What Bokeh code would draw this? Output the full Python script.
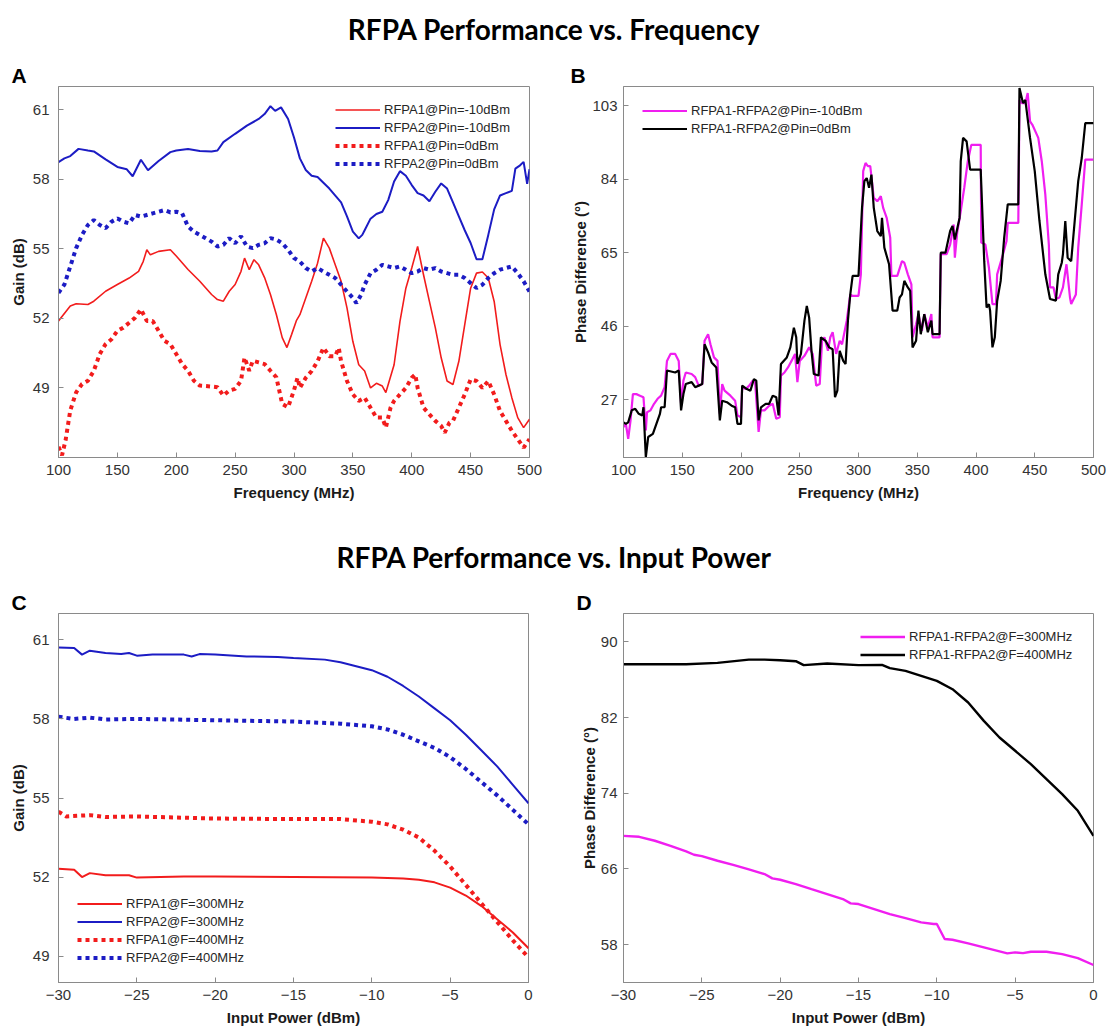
from bokeh.plotting import figure
from bokeh.models import Range1d, FixedTicker, Label, Legend, LegendItem, Title
from bokeh.layouts import column, row
from bokeh.embed import file_html
from bokeh.resources import INLINE

# ---------------- data ----------------
# Panel A: Gain vs frequency
a_r1_x = [100,110,115,125,130,140,150,160,168,172,175,178,185,195,200,210,220,230,235,240,245,250,255,258,262,266,270,275,280,285,290,294,298,302,305,310,315,320,325,330,335,340,345,350,355,360,365,370,375,378,385,390,395,400,405,410,415,420,425,430,435,440,445,450,455,460,465,470,475,480,485,490,495,500]
a_r1_y = [51.89,52.53,52.63,52.6,52.74,53.17,53.46,53.74,54.03,54.46,54.96,54.74,54.89,54.96,54.69,54.11,53.6,53.03,52.81,52.74,53.17,53.46,54.03,54.6,54.1,54.53,54.31,53.76,53.03,52.17,51.17,50.74,51.31,51.9,52.16,52.88,53.6,54.38,55.46,55.03,54.31,53.6,52.45,51.0,50.0,49.73,49.0,49.2,49.08,48.8,50.0,51.87,53.3,54.17,55.1,53.88,52.73,51.6,50.3,49.3,49.15,50.15,51.73,53.3,53.95,54.0,53.74,52.73,50.87,49.58,48.58,47.72,47.29,47.65]

a_r2_x = [100,105,110,117,125,130,140,150,158,163,170,176,185,195,200,210,220,230,235,240,250,260,270,275,280,284,289,295,300,305,310,315,320,330,340,345,350,355,358,360,365,370,375,380,385,390,395,400,405,410,415,420,425,430,435,440,445,450,455,460,465,470,475,480,485,488,492,495,498,500]
a_r2_y = [58.74,58.9,59.0,59.31,59.24,59.2,58.86,58.53,58.43,58.13,58.84,58.39,58.79,59.17,59.24,59.3,59.22,59.2,59.24,59.6,59.96,60.31,60.6,60.81,61.15,60.95,61.1,60.6,59.8,58.9,58.4,58.15,58.1,57.6,57.0,56.4,55.74,55.45,55.6,55.8,56.3,56.5,56.6,57.1,57.9,58.35,58.15,57.75,57.4,57.3,57.05,57.46,57.82,57.6,57.0,56.4,55.8,55.25,54.55,54.55,55.6,56.7,57.3,57.4,57.5,58.46,58.6,58.75,57.8,58.43]

a_r1p_x = [100,103,106,110,115,120,125,130,135,140,145,150,155,160,165,170,175,180,185,190,195,200,205,210,215,220,230,235,240,245,250,255,258,262,265,270,275,280,285,290,295,300,303,305,310,315,320,325,330,335,338,340,345,350,355,360,365,370,375,378,382,385,390,395,400,403,405,410,415,420,425,428,432,435,440,445,450,455,460,465,470,475,480,485,490,495,500]
a_r1p_y = [46.46,46.1,46.74,48.03,48.81,49.17,49.31,49.74,50.46,50.89,51.1,51.46,51.6,51.81,52.03,52.39,51.89,51.89,51.46,51.03,50.89,50.46,50.03,49.74,49.31,49.1,49.06,49.03,48.67,48.89,48.96,49.31,50.31,49.74,50.17,50.1,50.03,49.74,49.46,48.31,48.17,48.9,49.44,49.0,49.44,49.73,50.15,50.73,50.37,50.37,50.73,50.15,49.3,48.72,48.44,48.58,48.15,47.72,47.72,47.29,48.15,48.44,48.72,49.0,49.44,49.58,49.0,48.15,47.86,47.58,47.36,47.07,47.5,47.58,48.15,48.72,49.37,49.3,49.0,49.3,48.72,48.0,47.58,47.15,46.79,46.43,46.79]

a_r2p_x = [100,105,110,115,120,125,130,135,140,145,150,155,160,165,170,175,180,185,190,195,200,205,210,215,220,225,230,235,240,245,250,255,260,265,270,275,280,285,290,295,300,305,310,315,320,325,330,335,340,345,350,353,357,360,365,370,375,380,385,390,395,400,405,410,415,420,425,430,435,440,445,450,455,460,465,470,475,480,485,490,495,500]
a_r2p_y = [53.1,53.46,54.24,55.03,55.6,56.03,56.24,56.03,55.89,56.17,56.31,56.17,56.1,56.46,56.39,56.46,56.53,56.6,56.67,56.57,56.6,56.53,55.96,55.74,55.6,55.46,55.31,55.1,55.17,55.46,55.24,55.54,55.1,55.03,55.17,55.24,55.46,55.4,55.24,54.96,54.6,54.45,54.17,54.02,54.17,54.02,53.88,53.74,53.45,53.16,52.88,52.66,53.02,53.45,53.95,54.1,54.31,54.24,54.17,54.24,54.1,53.95,54.02,54.17,54.1,54.17,54.02,53.95,53.88,53.88,53.74,53.52,53.31,53.45,53.74,53.95,54.1,54.17,54.24,53.95,53.6,53.16]

a_labels = ["RFPA1@Pin=-10dBm", "RFPA2@Pin=-10dBm", "RFPA1@Pin=0dBm", "RFPA2@Pin=0dBm"]

# Panel B: phase difference vs frequency
b_m10_x = [100,102,104,106,108,111,114,117,119,120,123,126,129,132,135,137,140,144,147,149,151,153,158,161,164,167,169,172,174,177,180,182,184,186,191,195,197,200,201,204,207,210,212,215,217,220,224,227,230,233,234,237,240,243,246,248,250,254,258,261,264,267,269,271,274,276,278,281,284,286,290,293,295,300,302,304,306,308,310,313,316,319,321,324,327,328,333,337,339,342,345,346,349,351,354,356,359,362,363,369,370,375,378,381,382,384,387,390,393,396,404,404.5,408,411,414,417,418,423,426,427,436,437,439,442,444,446,448,453,456,459,462,463,466,468,471,474,477,480,481,485,487,490,493,500]
b_m10_y = [19.85,20.7,16.8,21.6,28.4,28.4,28.0,27.6,19.0,23.7,24.2,25.9,27.2,28.0,30.2,37.0,38.8,38.8,37.0,25.9,31.9,34.0,33.6,32.8,30.6,31.0,42.2,43.9,41.3,37.9,37.0,23.3,31.0,29.3,28.0,26.7,22.9,22.4,30.2,29.7,30.6,31.9,31.5,18.6,24.2,24.2,25.4,25.9,22.0,22.4,33.2,34.0,35.3,37.0,38.8,31.5,37.0,38.3,40.5,38.8,30.6,31.0,42.2,43.1,39.6,43.1,44.4,38.8,42.2,41.3,47.4,54.2,53.8,53.8,59.4,86.1,88.2,87.4,87.4,79.2,78.3,79.6,76.6,74.0,68.9,59.0,59.0,62.8,62.4,59.4,56.8,43.1,46.5,49.1,44.8,49.1,45.6,49.1,43.1,43.1,64.6,64.6,67.1,72.3,63.7,70.2,75.7,81.8,88.6,92.9,92.9,67.6,67.1,61.1,51.7,51.7,59.4,64.6,68.0,72.7,72.7,104.5,103.7,103.7,106.3,99.0,98.1,94.7,88.6,80.0,67.1,56.0,56.0,53.0,53.4,56.0,62.0,53.4,51.7,54.2,66.3,77.5,89.1,89.1]

b_0_x = [100,102,104,107,110,113,116,117,119,121,125,128,131,132,135,137,144,147,149,151,153,158,161,164,167,169,172,175,179,182,184,188,192,195,197,200,201,205,208,211,213,215,217,221,224,227,230,232,234,239,242,245,247,248,251,254,256,258,260,262,266,268,272,275,278,280,282,284,287,289,291,293,295,300,303,305,307,309,311,313,316,319,320,322,326,329,333,335,337,339,342,344,346,349,351,353,356,359,362,363,369,370,374,378,380,382,386,387,389,392,395,404,407,409,411,412,414,416,418,421,424,427,436,437,440,442,446,450,454,459,463,468,470,473,474,476,478,481,484,487,490,493,500]
b_0_y = [21.1,20.7,21.1,24.2,24.6,23.3,22.9,25.0,12.1,17.3,18.1,20.7,23.3,25.0,25.0,34.5,34.0,34.5,24.2,28.4,31.0,31.5,30.2,30.6,31.0,41.3,39.2,36.6,35.3,21.6,26.7,26.3,25.4,25.0,20.7,20.7,30.6,29.7,29.3,32.3,31.9,21.6,25.0,25.9,25.9,28.0,27.6,22.9,36.2,37.9,40.5,45.6,43.1,36.2,38.8,47.4,51.2,48.2,39.6,33.6,33.2,43.1,42.2,40.5,40.0,27.6,29.3,39.6,37.0,36.2,47.4,54.2,59.0,59.0,76.6,83.5,84.3,81.8,85.2,76.6,70.6,69.3,74.0,66.3,62.0,50.0,50.0,53.4,54.2,57.7,56.0,55.1,40.5,42.2,50.0,43.9,49.1,44.4,47.4,43.9,43.9,65.0,65.0,70.6,71.9,68.4,74.0,88.6,94.7,93.8,86.5,86.5,62.8,50.8,51.7,50.0,40.5,43.1,52.5,57.7,68.9,77.5,77.5,107.6,103.7,104.5,94.7,86.1,73.2,59.4,53.0,52.6,59.4,62.4,64.6,73.2,63.7,62.8,73.2,83.5,89.5,98.5,98.5]

b_labels = ["RFPA1-RFPA2@Pin=-10dBm", "RFPA1-RFPA2@Pin=0dBm"]

# Panel C: gain vs input power
c_r1_x = [-30,-29,-28.5,-28,-27,-25.5,-25,-22,-20,-15,-10,-8,-7,-6,-5,-4,-3,-2,-1,0]
c_r1_y = [52.32,52.28,52.0,52.15,52.07,52.07,51.98,52.02,52.02,52.0,51.98,51.95,51.9,51.8,51.6,51.3,50.9,50.4,49.9,49.3]
c_r2_x = [-30,-29,-28.5,-28,-27,-26,-25.5,-25,-24,-22,-21.5,-21,-20,-18,-16,-15,-13,-12,-11,-10,-9,-8,-7,-6,-5,-4,-3,-2,-1,0]
c_r2_y = [60.71,60.69,60.44,60.59,60.5,60.46,60.5,60.4,60.44,60.44,60.37,60.46,60.44,60.37,60.35,60.31,60.25,60.15,60.0,59.85,59.6,59.25,58.85,58.4,57.95,57.4,56.8,56.2,55.5,54.8]
c_r1p_x = [-30,-29.5,-28,-27,-25,-20,-15,-12,-10,-9,-8,-7,-6,-5,-4,-3,-2,-1,0]
c_r1p_y = [54.48,54.3,54.35,54.28,54.3,54.22,54.2,54.2,54.1,54.0,53.8,53.5,53.0,52.4,51.7,51.0,50.3,49.6,48.95]
c_r2p_x = [-30,-29,-28,-27,-25,-20,-15,-12,-10,-9,-8,-7,-6,-5,-4,-3,-2,-1,0]
c_r2p_y = [58.08,58.0,58.05,57.98,58.0,57.95,57.9,57.82,57.72,57.6,57.4,57.15,56.9,56.55,56.1,55.6,55.1,54.55,54.0]
c_labels = ["RFPA1@F=300MHz", "RFPA2@F=300MHz", "RFPA1@F=400MHz", "RFPA2@F=400MHz"]

# Panel D: phase difference vs input power
d_300_x = [-30,-29,-28,-27,-26,-25.5,-25,-24,-23,-22,-21,-20.5,-20,-19,-18,-17,-16,-15.5,-15,-14,-13,-12,-11,-10.2,-10,-9.5,-9,-8,-7,-6,-5.5,-5,-4.5,-4,-3,-2,-1,0]
d_300_y = [69.5,69.4,68.98,68.45,67.85,67.5,67.36,66.87,66.44,65.95,65.46,65.0,64.86,64.4,63.87,63.35,62.82,62.36,62.29,61.76,61.23,60.8,60.35,60.18,60.18,58.6,58.52,58.13,57.71,57.29,57.08,57.18,57.1,57.25,57.25,57.0,56.58,55.85]
d_400_x = [-30,-28,-26,-24,-22,-21,-20,-19,-18.5,-17,-15,-13.5,-13,-12,-11,-10,-9,-8,-7,-6,-5,-4,-3,-2,-1,0]
d_400_y = [87.64,87.64,87.64,87.78,88.13,88.13,88.06,87.96,87.54,87.71,87.54,87.57,87.22,86.94,86.41,85.88,85.0,83.59,81.65,79.89,78.49,77.08,75.49,73.91,72.15,69.5]
d_labels = ["RFPA1-RFPA2@F=300MHz", "RFPA1-RFPA2@F=400MHz"]

freq_ticks = [100, 150, 200, 250, 300, 350, 400, 450, 500]
gain_ticks = [49, 52, 55, 58, 61]
phase_b_ticks = [27, 46, 65, 84, 103]
pin_ticks = [-30, -25, -20, -15, -10, -5, 0]
phase_d_ticks = [58, 66, 74, 82, 90]

# ---------------- styling ----------------
RED = "#f21c1c"
BLUE = "#1c1cc4"
MAG = "#f01ef0"
BLK = "#000000"
FRAME = "#8a8a8a"
FONT = "Liberation Sans"
TOP = 24


def panel(w, h, xr, yr, xticks, yticks, xlabel, ylabel, left, right, bottom,
          letter, letter_offset, ylab_standoff, ytick_standoff):
    p = figure(width=w, height=h, x_range=Range1d(*xr), y_range=Range1d(*yr),
               output_backend="svg", toolbar_location=None,
               min_border_left=left, min_border_right=right,
               min_border_bottom=bottom, min_border_top=TOP)
    p.title = Title(text=letter, align="left", offset=letter_offset, standoff=0,
                    text_font=FONT, text_font_style="bold", text_font_size="21px",
                    text_color="#000000")
    p.xgrid.visible = False
    p.ygrid.visible = False
    p.outline_line_color = FRAME
    p.outline_line_width = 1
    for ax, ticks, lab in ((p.xaxis[0], xticks, xlabel), (p.yaxis[0], yticks, ylabel)):
        ax.ticker = FixedTicker(ticks=ticks, minor_ticks=[])
        ax.axis_label = lab
        ax.axis_label_text_font = FONT
        ax.axis_label_text_font_style = "bold"
        ax.axis_label_text_font_size = "15px"
        ax.axis_label_text_color = "#1a1a1a"
        ax.major_label_text_font = FONT
        ax.major_label_text_font_size = "15px"
        ax.major_label_text_color = "#333333"
        ax.major_tick_in = 5
        ax.major_tick_out = 0
        ax.major_tick_line_color = FRAME
        ax.axis_line_color = FRAME
    p.xaxis[0].major_label_standoff = 7
    p.xaxis[0].axis_label_standoff = 6
    p.yaxis[0].major_label_standoff = ytick_standoff
    p.yaxis[0].axis_label_standoff = ylab_standoff
    return p


def add_legend(p, items, loc):
    lg = Legend(items=items, location=loc, label_text_font=FONT,
                label_text_font_size="13px", label_text_color="#262626",
                glyph_width=45, glyph_height=15, label_height=15,
                label_standoff=4, spacing=3, padding=5, margin=0,
                border_line_alpha=0, background_fill_alpha=0)
    p.add_layout(lg)


def title_fig(h, title, y_title):
    t = figure(width=1108, height=h, x_range=Range1d(0, 1108), y_range=Range1d(h, 0),
               output_backend="svg", toolbar_location=None, title=None, min_border=0)
    t.axis.visible = False
    t.grid.visible = False
    t.outline_line_color = None
    t.add_layout(Label(x=554, y=y_title, text=title, text_font="Lato",
                       text_font_style="bold", text_font_size="28px",
                       text_align="center", text_baseline="middle", text_color="#000000"))
    return t


# ---------------- panels ----------------
t1 = title_fig(85 - TOP, "RFPA Performance vs. Frequency", 28)

pA = panel(554, 457 - 85 + TOP + 53, (100, 500), (46, 62), freq_ticks, gain_ticks,
           "Frequency (MHz)", "Gain (dB)", 58, 25, 53, "A", -47, 3, 9)
r1 = pA.line(a_r1_x, a_r1_y, line_color=RED, line_width=1.6)
r2 = pA.line(a_r2_x, a_r2_y, line_color=BLUE, line_width=2)
r3 = pA.line(a_r1p_x, a_r1p_y, line_color=RED, line_width=4, line_dash="4 4")
r4 = pA.line(a_r2p_x, a_r2p_y, line_color=BLUE, line_width=4, line_dash="4 4")
add_legend(pA, [LegendItem(label=l, renderers=[r]) for l, r in zip(a_labels, [r1, r2, r3, r4])], (272, 281))

pB = panel(554, 457 - 85 + TOP + 53, (100, 500), (12, 108), freq_ticks, phase_b_ticks,
           "Frequency (MHz)", "Phase Difference (°)", 69, 15, 53, "B", -53, 0, 6)
b1 = pB.line(b_m10_x, b_m10_y, line_color=MAG, line_width=2.2)
b2 = pB.line(b_0_x, b_0_y, line_color=BLK, line_width=2.2)
add_legend(pB, [LegendItem(label=l, renderers=[r]) for l, r in zip(b_labels, [b1, b2])], (14, 316))

t2 = title_fig(612 - TOP - 510, "RFPA Performance vs. Input Power", 46)

pC = panel(554, 982 - 612 + TOP + 50, (-30, 0), (48, 62), pin_ticks, gain_ticks,
           "Input Power (dBm)", "Gain (dB)", 58, 26, 50, "C", -47, 3, 9)
c1 = pC.line(c_r1_x, c_r1_y, line_color=RED, line_width=2)
c2 = pC.line(c_r2_x, c_r2_y, line_color=BLUE, line_width=2)
c3 = pC.line(c_r1p_x, c_r1p_y, line_color=RED, line_width=4, line_dash="4 4")
c4 = pC.line(c_r2p_x, c_r2p_y, line_color=BLUE, line_width=4, line_dash="4 4")
add_legend(pC, [LegendItem(label=l, renderers=[r]) for l, r in zip(c_labels, [c1, c2, c3, c4])], (14, 12))

pD = panel(554, 982 - 612 + TOP + 50, (-30, 0), (54, 93), pin_ticks, phase_d_ticks,
           "Input Power (dBm)", "Phase Difference (°)", 69, 15, 50, "D", -47, 0, 6)
d1 = pD.line(d_300_x, d_300_y, line_color=MAG, line_width=2.4)
d2 = pD.line(d_400_x, d_400_y, line_color=BLK, line_width=2.4)
add_legend(pD, [LegendItem(label=l, renderers=[r]) for l, r in zip(d_labels, [d1, d2])], (232, 315))

layout = column(t1, row(pA, pB), t2, row(pC, pD))
open("out.html", "w").write(file_html(layout, INLINE))
